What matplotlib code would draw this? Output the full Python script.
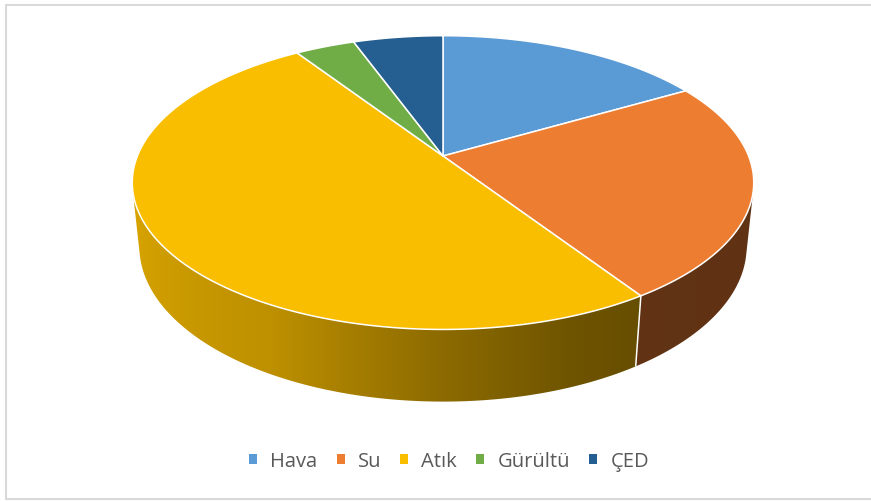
import numpy as np
import matplotlib
matplotlib.use("Agg")
import matplotlib.pyplot as plt
from matplotlib.patches import Polygon, Patch
from matplotlib.colors import to_rgb

# Data
categories = ["Hava", "Su", "Atık", "Gürültü", "ÇED"]
values = [9, 13, 27, 2, 3]
colors = ["#5B9BD5", "#ED7D31", "#FABE00", "#70AD47", "#255E91"]

W, H = 871, 502
fig = plt.figure(figsize=(W / 100, H / 100), dpi=100)
ax = fig.add_axes([0, 0, 1, 1])
ax.axis("off")

# Perspective camera for the 3-D pie (unit radius disc, top face at z=0)
CX, CY = 443.0, 157.0
FOCAL = 1495.0
DIST = 4.892
ELEV = np.radians(27.7)
THICK = 0.239
ce, se = np.cos(ELEV), np.sin(ELEV)


def project(t_deg, z):
    t = np.radians(np.asarray(t_deg, dtype=float))
    px, py = np.sin(t), np.cos(t)
    depth = DIST + py * ce - z * se
    up = py * se + z * ce
    return CX + FOCAL * px / depth, CY - FOCAL * up / depth


# Side-wall shading as a function of the angle from the front
shade_theta = [-100, -33, -21, 0, 28, 75, 100]
shade_val = [0.40, 0.41, 0.44, 0.56, 0.76, 0.87, 0.88]

total = float(sum(values))
bounds = np.concatenate([[0.0], np.cumsum(values) / total * 360.0])

# visible part of the outer wall (silhouette of the cylinder)
t_sil = np.degrees(np.arccos(-1.0 / (DIST * ce)))
vis_lo, vis_hi = t_sil, 360.0 - t_sil

# map each screen column to the rim angle in front of it
t_rim = np.linspace(vis_lo, vis_hi, 2000)
x_rim, _ = project(t_rim, 0)
cols_x = np.arange(W) + 0.5
t_col = np.interp(cols_x, x_rim[::-1], t_rim[::-1])
f_col = np.interp(t_col - 180.0, shade_theta, shade_val)

# outer walls, filled with a horizontal shading gradient
for i, col in enumerate(colors):
    a0, a1 = max(bounds[i], vis_lo), min(bounds[i + 1], vis_hi)
    if a1 <= a0:
        continue
    ts = np.linspace(a0, a1, 300)
    xt, yt = project(ts, 0)
    xb, yb = project(ts[::-1], -THICK)
    poly = Polygon(list(zip(xt, yt)) + list(zip(xb, yb)), closed=True,
                   facecolor="none", edgecolor="none")
    ax.add_patch(poly)
    grad = np.clip(f_col[None, :, None] * np.array(to_rgb(col))[None, None, :],
                   0, 1)
    im = ax.imshow(grad, extent=(0, W, H, 0), aspect="auto",
                   interpolation="bilinear", zorder=2)
    im.set_clip_path(poly)

# seams between slices on the wall
for b in bounds[1:-1]:
    if vis_lo < b < vis_hi:
        x0, y0 = project(b, 0)
        x1, y1 = project(b, -THICK)
        ax.plot([x0, x1], [y0, y1], color="white", lw=1.1, zorder=3,
                solid_capstyle="butt")

# top faces
for i, col in enumerate(colors):
    ts = np.linspace(bounds[i], bounds[i + 1], 200)
    xs, ys = project(ts, 0)
    pts = [(CX, CY)] + list(zip(xs, ys))
    ax.add_patch(Polygon(pts, closed=True, facecolor=col, edgecolor="white",
                         lw=1.1, joinstyle="round", zorder=4))

# chart frame (left, top and bottom edges)
ax.plot([W + 5, 5.5, 5.5, W + 5], [5.5, 5.5, 499.5, 499.5],
        color="#D9D9D9", lw=1.5, zorder=1, solid_joinstyle="miter")

ax.set_xlim(0, W)
ax.set_ylim(H, 0)

handles = [Patch(facecolor=c, edgecolor="none") for c in colors]
fig.legend(handles, categories, loc="center",
           bbox_to_anchor=(449 / W, 1 - 462 / H), ncol=5, frameon=False,
           handlelength=0.4, handleheight=0.4, handletextpad=0.65,
           columnspacing=0.95, borderaxespad=0,
           prop={"family": "Open Sans", "size": 14.5}, labelcolor="#595959")

fig.savefig("out.png", dpi=100)
